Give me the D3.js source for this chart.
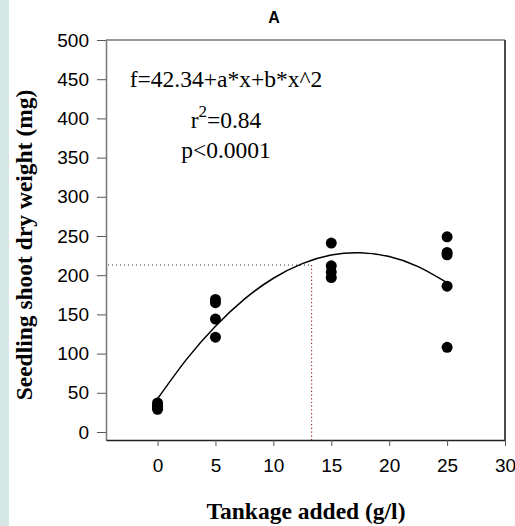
<!DOCTYPE html>
<html>
<head>
<meta charset="utf-8">
<script src="https://cdn.jsdelivr.net/npm/d3@7"></script>
<style>
  body { margin: 0; background: #fff; }
  #chart { width: 515px; height: 526px; }
</style>
</head>
<body>
<div id="chart"></div>
<script>
// Observed seedling shoot dry weights (mg) per tankage level (g/l)
const obsX = [0, 0, 0, 0, 5, 5, 5, 5, 15, 15, 15, 15, 25, 25, 25, 25, 25];
const obsY = [37, 34, 31, 29, 169, 165, 144, 121, 241, 212, 204, 197, 249, 229, 226, 186, 108];

// Fitted quadratic curve
const fitX = [0, 2.5, 5, 7.5, 10, 12.5, 15, 17.5, 20, 22.5, 25];
const fitY = [42.3, 92.6, 134.9, 169.4, 196.1, 214.8, 225.7, 228.6, 223.8, 211, 190.4];

// Dotted reference lines
const refX = 13.3;
const refY = 213;

const xTicks = [0, 5, 10, 15, 20, 25, 30];
const yTicks = [0, 50, 100, 150, 200, 250, 300, 350, 400, 450, 500];

const annotLines = ["f=42.34+a*x+b*x^2", "r2=0.84", "p<0.0001"];

const width = 515, height = 526;
const margin = { top: 40, right: 10, bottom: 86, left: 106 };

const svg = d3.select("#chart")
    .append("svg")
    .attr("width", width)
    .attr("height", height);

// light strip on the left
svg.append("rect")
    .attr("x", 0).attr("y", 0)
    .attr("width", 9).attr("height", height)
    .attr("fill", "#d5e8e5");

const x = d3.scaleLinear()
    .domain([-4.45, 30])
    .range([margin.left, width - margin.right]);

const y = d3.scaleLinear()
    .domain([-10.2, 500])
    .range([height - margin.bottom, margin.top]);

const x0 = x.range()[0], x1 = x.range()[1];
const y0 = y.range()[0], y1 = y.range()[1];

// frame
svg.append("line").attr("x1", x0).attr("x2", x1).attr("y1", y1).attr("y2", y1)
    .attr("stroke", "#777").attr("stroke-width", 1.5);
svg.append("line").attr("x1", x1).attr("x2", x1).attr("y1", y1).attr("y2", y0)
    .attr("stroke", "#111").attr("stroke-width", 1.5);

const sans = "'Liberation Sans', Arial, sans-serif";
const serif = "'Liberation Serif', 'Times New Roman', serif";

// axes
const yAxis = svg.append("g")
    .attr("transform", `translate(${x0},0)`)
    .call(d3.axisLeft(y).tickValues(yTicks).tickSize(9).tickPadding(8).tickSizeOuter(0));
yAxis.select(".domain").attr("stroke", "#777").attr("stroke-width", 1.5);
yAxis.selectAll(".tick line").attr("stroke", "#555");
yAxis.selectAll("text")
    .attr("fill", "#000")
    .style("font-family", sans)
    .style("font-size", "19px");

const xAxis = svg.append("g")
    .attr("transform", `translate(0,${y0})`)
    .call(d3.axisBottom(x).tickValues(xTicks).tickSize(6).tickPadding(13).tickSizeOuter(0));
xAxis.select(".domain").attr("stroke", "#222").attr("stroke-width", 1.5);
xAxis.selectAll(".tick line").attr("stroke", "#555");
xAxis.selectAll("text")
    .attr("fill", "#000")
    .style("font-family", sans)
    .style("font-size", "19px");

// dotted reference lines
svg.append("line")
    .attr("x1", x0 + 2).attr("x2", x(refX))
    .attr("y1", y(refY)).attr("y2", y(refY))
    .attr("stroke", "#333").attr("stroke-width", 1)
    .attr("stroke-dasharray", "1,3");
svg.append("line")
    .attr("x1", x(refX)).attr("x2", x(refX))
    .attr("y1", y(refY)).attr("y2", y0)
    .attr("stroke", "#a02828").attr("stroke-width", 1.2)
    .attr("stroke-dasharray", "1.2,2.5");

// fitted curve
const fitData = fitX.map((d, i) => [d, fitY[i]]);
svg.append("path")
    .datum(fitData)
    .attr("d", d3.line().x(d => x(d[0])).y(d => y(d[1])).curve(d3.curveNatural))
    .attr("fill", "none")
    .attr("stroke", "#000")
    .attr("stroke-width", 1.5);

// observations
svg.selectAll("circle.obs")
    .data(obsX.map((d, i) => [d, obsY[i]]))
    .join("circle")
    .attr("class", "obs")
    .attr("cx", d => x(d[0]))
    .attr("cy", d => y(d[1]))
    .attr("r", 5.5)
    .attr("fill", "#000");

// annotation
const annot = svg.append("g")
    .style("font-family", serif)
    .style("font-size", "23.5px")
    .attr("fill", "#000")
    .attr("text-anchor", "middle");
annot.append("text").attr("x", 226).attr("y", 87).text(annotLines[0]);
const r2 = annot.append("text").attr("x", 226).attr("y", 128);
r2.append("tspan").text("r");
r2.append("tspan").attr("dy", -11).style("font-size", "17px").text("2");
r2.append("tspan").attr("dy", 11).text("=0.84");
annot.append("text").attr("x", 226).attr("y", 158).text(annotLines[2]);

// title
svg.append("text")
    .attr("x", 274).attr("y", 23)
    .attr("text-anchor", "middle")
    .style("font-family", sans)
    .style("font-size", "16px")
    .style("font-weight", "bold")
    .text("A");

// axis titles
svg.append("text")
    .attr("x", 306).attr("y", 519)
    .attr("text-anchor", "middle")
    .style("font-family", serif)
    .style("font-size", "23.5px")
    .style("font-weight", "bold")
    .text("Tankage added (g/l)");

svg.append("text")
    .attr("transform", "rotate(-90)")
    .attr("x", -245).attr("y", 32)
    .attr("text-anchor", "middle")
    .style("font-family", serif)
    .style("font-size", "23.5px")
    .style("font-weight", "bold")
    .text("Seedling shoot dry weight (mg)");
</script>
</body>
</html>
